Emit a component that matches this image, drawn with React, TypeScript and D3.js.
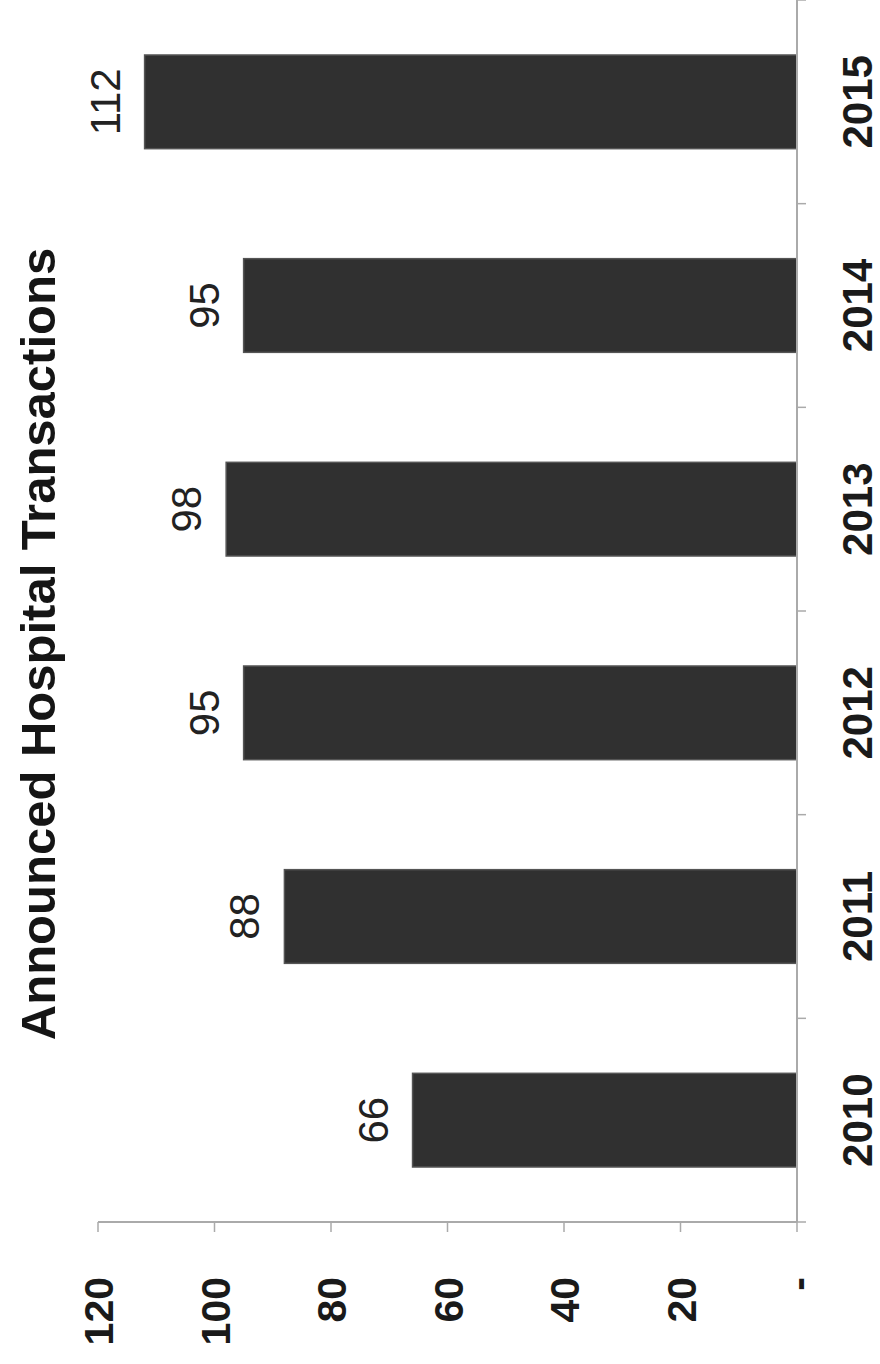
import React from "react";
import * as d3 from "d3";

const years = ["2010", "2011", "2012", "2013", "2014", "2015"];
const transactions = [66, 88, 95, 98, 95, 112];
const valueTicks = [0, 20, 40, 60, 80, 100, 120];
const title = "Announced Hospital Transactions";

const W = 880;
const H = 1364;
// chart is drawn in its original orientation (width = H, height = W) and rotated -90deg
const OX0 = 142; // left of plot in original coords
const OX1 = 1364;
const OY0 = 797; // baseline (value 0)

export default function App() {
  const x = d3.scaleBand<string>().domain(years).range([OX0, OX1]).paddingInner(0.54).paddingOuter(0.27);
  const y = d3.scaleLinear().domain([0, 120]).range([OY0, 98]);
  const step = x.step();
  const font = "'Liberation Sans', Arial, sans-serif";
  const boundaries = d3.range(0, years.length + 1).map((i) => OX0 + i * step);
  const fmt = (v: number) => (v === 0 ? "-" : String(v));

  return (
    <svg width={W} height={H} style={{ position: "absolute", left: 0, top: 0, background: "#fff" }}>
      <rect x={0} y={0} width={W} height={H} fill="#fff" />
      <g transform={`translate(0,${H}) rotate(-90)`}>
        {/* title */}
        <text x={1364 - 644} y={55} textAnchor="middle" fontFamily={font} fontWeight="bold" fontSize={49} fill="#151515">
          {title}
        </text>
        {/* bars */}
        {years.map((yr, i) => (
          <rect
            key={yr}
            x={x(yr)!}
            y={y(transactions[i])}
            width={x.bandwidth()}
            height={OY0 - y(transactions[i])}
            fill="#303030"
            stroke="#555"
            strokeWidth={1.5}
          />
        ))}
        {/* value labels */}
        {years.map((yr, i) => (
          <text
            key={"v" + yr}
            x={x(yr)! + x.bandwidth() / 2}
            y={y(transactions[i]) - 25}
            textAnchor="middle"
            fontFamily={font}
            fontSize={42}
            fill="#222"
          >
            {transactions[i]}
          </text>
        ))}
        {/* value axis */}
        <line x1={OX0} x2={OX0} y1={y(120)} y2={OY0} stroke="#aaa" strokeWidth={2} />
        {valueTicks.map((v) => (
          <g key={"t" + v}>
            <line x1={OX0 - 10} x2={OX0} y1={y(v)} y2={y(v)} stroke="#aaa" strokeWidth={1.5} />
            <text
              x={87}
              y={y(v) + 15}
              textAnchor="end"
              fontFamily={font}
              fontWeight="bold"
              fontSize={41}
              fill="#1a1a1a"
            >
              {fmt(v)}
            </text>
          </g>
        ))}
        {/* category axis */}
        <line x1={OX0} x2={OX1} y1={OY0} y2={OY0} stroke="#aaa" strokeWidth={2} />
        {boundaries.map((b, i) => (
          <line key={"c" + i} x1={b} x2={b} y1={OY0} y2={OY0 + 9} stroke="#aaa" strokeWidth={1.5} />
        ))}
        {years.map((yr) => (
          <text
            key={"l" + yr}
            x={x(yr)! + x.bandwidth() / 2}
            y={872}
            textAnchor="middle"
            fontFamily={font}
            fontWeight="bold"
            fontSize={42}
            fill="#1a1a1a"
          >
            {yr}
          </text>
        ))}
      </g>
    </svg>
  );
}
